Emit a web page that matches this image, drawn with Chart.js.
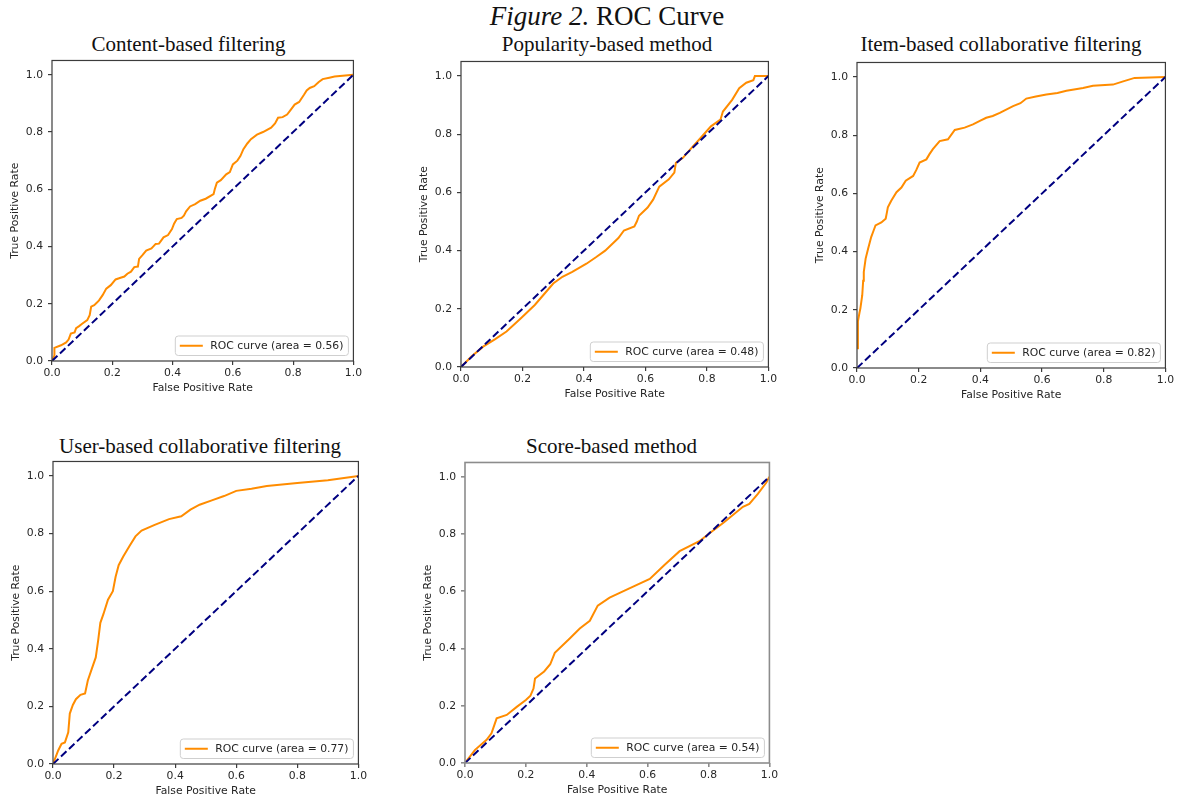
<!DOCTYPE html>
<html>
<head>
<meta charset="utf-8">
<script src="https://cdn.jsdelivr.net/npm/chart.js@4.4.1/dist/chart.umd.min.js"></script>
<style>
  html, body { margin: 0; padding: 0; background: #fff; overflow: hidden; }
  body { width: 1179px; height: 803px; position: relative; }
  canvas { position: absolute; }
  svg { position: absolute; left: 0; top: 0; }
</style>
</head>
<body>
<svg id="titles" width="1179" height="803"></svg>
<script>
// ---- data ----
const figureTitle = ['Figure 2.', ' ROC Curve'];
const subTitles = ['Content-based filtering', 'Popularity-based method', 'Item-based collaborative filtering',
  'User-based collaborative filtering', 'Score-based method'];
const aucValues = [0.56, 0.48, 0.82, 0.77, 0.54];
const tickValues = [0, 0.2, 0.4, 0.6, 0.8, 1.0];

const contentFpr = [0, 0.008, 0.008, 0.03, 0.047, 0.055, 0.0625, 0.075, 0.08, 0.09, 0.1, 0.117, 0.125, 0.13, 0.14, 0.15,
  0.156, 0.168, 0.18, 0.195, 0.211, 0.225, 0.24, 0.25, 0.262, 0.273, 0.285, 0.289, 0.3, 0.3125, 0.33, 0.344, 0.355,
  0.37, 0.385, 0.398, 0.405, 0.414, 0.43, 0.4375, 0.445, 0.458, 0.475, 0.492, 0.51, 0.536, 0.54, 0.547, 0.56, 0.578,
  0.59, 0.6, 0.615, 0.625, 0.635, 0.648, 0.66, 0.68, 0.7, 0.727, 0.74, 0.75, 0.765, 0.78, 0.79, 0.805, 0.82, 0.836,
  0.845, 0.855, 0.87, 0.885, 0.898, 0.92, 0.9375, 1];
const contentTpr = [0, 0.02, 0.046, 0.055, 0.065, 0.075, 0.096, 0.1, 0.115, 0.122, 0.13, 0.143, 0.16, 0.19, 0.195, 0.205,
  0.212, 0.23, 0.253, 0.265, 0.285, 0.29, 0.295, 0.305, 0.312, 0.328, 0.33, 0.357, 0.37, 0.386, 0.393, 0.409, 0.41,
  0.432, 0.44, 0.461, 0.48, 0.496, 0.5, 0.508, 0.523, 0.54, 0.548, 0.56, 0.567, 0.583, 0.6, 0.623, 0.632, 0.652,
  0.66, 0.687, 0.7, 0.716, 0.74, 0.76, 0.775, 0.791, 0.8, 0.815, 0.83, 0.85, 0.852, 0.861, 0.875, 0.896, 0.905, 0.93,
  0.945, 0.954, 0.96, 0.975, 0.985, 0.99, 0.994, 1];

const popularityFpr = [0, 0.034, 0.072, 0.11, 0.148, 0.194, 0.24, 0.27, 0.3, 0.33, 0.362, 0.408, 0.44, 0.469, 0.512,
  0.53, 0.564, 0.572, 0.579, 0.607, 0.625, 0.645, 0.676, 0.694, 0.699, 0.722, 0.745, 0.775, 0.813, 0.844, 0.852,
  0.882, 0.905, 0.928, 0.951, 0.956, 1];
const popularityTpr = [0, 0.036, 0.07, 0.095, 0.122, 0.167, 0.213, 0.25, 0.287, 0.31, 0.327, 0.355, 0.378, 0.4, 0.443,
  0.469, 0.483, 0.5, 0.52, 0.548, 0.575, 0.62, 0.645, 0.668, 0.702, 0.719, 0.747, 0.782, 0.827, 0.85, 0.878,
  0.918, 0.958, 0.977, 0.986, 1, 1];

const itemFpr = [0, 0.003, 0.008, 0.011, 0.017, 0.02, 0.022, 0.028, 0.036, 0.046, 0.053, 0.06, 0.079, 0.093, 0.097, 0.1,
  0.111, 0.128, 0.144, 0.158, 0.182, 0.192, 0.203, 0.225, 0.235, 0.246, 0.268, 0.295, 0.317, 0.349, 0.376, 0.4,
  0.419, 0.44, 0.463, 0.506, 0.53, 0.549, 0.58, 0.614, 0.65, 0.679, 0.733, 0.765, 0.83, 0.863, 0.9, 1];
const itemTpr = [0.068, 0.16, 0.19, 0.205, 0.25, 0.3, 0.33, 0.376, 0.41, 0.45, 0.47, 0.49, 0.5, 0.513, 0.535, 0.552,
  0.575, 0.604, 0.62, 0.644, 0.66, 0.68, 0.706, 0.717, 0.735, 0.752, 0.78, 0.786, 0.818, 0.826, 0.837, 0.85,
  0.86, 0.866, 0.877, 0.9, 0.91, 0.926, 0.933, 0.94, 0.945, 0.953, 0.962, 0.97, 0.974, 0.985, 0.997, 1];

const userFpr = [0, 0.017, 0.028, 0.039, 0.05, 0.055, 0.065, 0.075, 0.09, 0.105, 0.114, 0.127, 0.14, 0.148, 0.155,
  0.165, 0.18, 0.196, 0.205, 0.215, 0.23, 0.25, 0.27, 0.29, 0.333, 0.38, 0.42, 0.45, 0.48, 0.52, 0.56, 0.6, 0.65,
  0.7, 0.8, 0.9, 1];
const userTpr = [0, 0.047, 0.07, 0.075, 0.11, 0.175, 0.205, 0.225, 0.24, 0.245, 0.29, 0.33, 0.37, 0.43, 0.49,
  0.52, 0.57, 0.6, 0.65, 0.69, 0.72, 0.756, 0.79, 0.81, 0.83, 0.85, 0.86, 0.883, 0.9, 0.915, 0.93, 0.948, 0.955,
  0.965, 0.975, 0.985, 1];

const scoreFpr = [0, 0.033, 0.071, 0.087, 0.104, 0.137, 0.17, 0.2, 0.215, 0.225, 0.23, 0.26, 0.28, 0.295, 0.344, 0.377,
  0.41, 0.436, 0.475, 0.54, 0.607, 0.656, 0.705, 0.77, 0.8, 0.85, 0.913, 0.934, 0.962, 0.99, 1];
const scoreTpr = [0, 0.046, 0.081, 0.104, 0.156, 0.168, 0.196, 0.22, 0.235, 0.26, 0.295, 0.32, 0.345, 0.385, 0.435, 0.47,
  0.497, 0.55, 0.578, 0.61, 0.643, 0.693, 0.74, 0.775, 0.8, 0.84, 0.895, 0.905, 0.94, 0.98, 1];

const chanceLine = [0, 1];

const curves = [
  [contentFpr, contentTpr], [popularityFpr, popularityTpr], [itemFpr, itemTpr],
  [userFpr, userTpr], [scoreFpr, scoreTpr]
];

// ---- layout (plot area box of each panel, title centre and baseline) ----
const panels = [
  { l: 52, r: 354, t: 59, b: 361, tx: 188.5, ty: 50.5, frame: '#3c3c3c', fw: 1.2 },
  { l: 461, r: 769, t: 60, b: 367, tx: 607, ty: 50.7, frame: '#3c3c3c', fw: 1.2 },
  { l: 857, r: 1166, t: 61, b: 368, tx: 1001, ty: 51, frame: '#3c3c3c', fw: 1.2 },
  { l: 53, r: 359, t: 460, b: 764, tx: 200, ty: 453, frame: '#3c3c3c', fw: 1.2 },
  { l: 465, r: 770, t: 461, b: 763, tx: 611.5, ty: 453.3, frame: '#8c8c8c', fw: 1.6 }
];
const Y_W = 50, X_H = 38, PAD = 10;
const textColor = '#262626';
const smallFont = { family: 'DejaVu Sans', size: 10.8 };

// titles
const svg = document.getElementById('titles');
const NS = 'http://www.w3.org/2000/svg';
function addText(x, y, size) {
  const t = document.createElementNS(NS, 'text');
  t.setAttribute('x', x);
  t.setAttribute('y', y);
  t.setAttribute('text-anchor', 'middle');
  t.setAttribute('font-family', 'Liberation Serif, Times New Roman, serif');
  t.setAttribute('font-size', size);
  t.setAttribute('fill', '#111');
  svg.appendChild(t);
  return t;
}
const ft = addText(607, 25, 27);
const it = document.createElementNS(NS, 'tspan');
it.setAttribute('font-style', 'italic');
it.textContent = figureTitle[0];
const nt = document.createElementNS(NS, 'tspan');
nt.textContent = figureTitle[1];
ft.appendChild(it);
ft.appendChild(nt);
ft.setAttribute('xml:space', 'preserve');
ft.style.whiteSpace = 'pre';

// legend + full frame drawn inside the plot
const framePlugin = {
  id: 'mplFrame',
  afterDatasetsDraw(chart, args, opts) {
    const a = chart.chartArea;
    const ctx = chart.ctx;
    const ds = chart.data.datasets.find(d => d.label);
    ctx.save();
    ctx.font = '10.8px "DejaVu Sans"';
    const tw = ctx.measureText(ds.label).width;
    const h = 19.5, w = tw + 40;
    const x = a.right - 5 - w, y = a.bottom - 5.5 - h;
    ctx.beginPath();
    ctx.roundRect(x, y, w, h, 3);
    ctx.fillStyle = 'rgba(255,255,255,0.85)';
    ctx.fill();
    ctx.strokeStyle = '#cfcfcf';
    ctx.lineWidth = 1;
    ctx.stroke();
    ctx.beginPath();
    ctx.moveTo(x + 4.5, y + h / 2);
    ctx.lineTo(x + 27.5, y + h / 2);
    ctx.strokeStyle = ds.borderColor;
    ctx.lineWidth = 2;
    ctx.stroke();
    ctx.fillStyle = textColor;
    ctx.textBaseline = 'middle';
    ctx.fillText(ds.label, x + 35, y + h / 2 + 0.5);

    ctx.strokeStyle = opts.color;
    ctx.lineWidth = opts.width;
    ctx.strokeRect(a.left, a.top, a.right - a.left, a.bottom - a.top);
    ctx.restore();
  }
};

panels.forEach((p, i) => {
  addText(p.tx, p.ty, 21).textContent = subTitles[i];

  const cv = document.createElement('canvas');
  cv.width = (p.r - p.l) + Y_W + PAD;
  cv.height = (p.b - p.t) + PAD + X_H;
  cv.style.left = (p.l - Y_W) + 'px';
  cv.style.top = (p.t - PAD) + 'px';
  document.body.appendChild(cv);

  const [fpr, tpr] = curves[i];
  const axisGrid = {
    display: true, drawOnChartArea: false, drawTicks: true, tickLength: 4,
    color: p.frame, tickColor: p.frame, lineWidth: p.fw
  };

  new Chart(cv.getContext('2d'), {
    type: 'scatter',
    data: {
      datasets: [
        {
          data: chanceLine.map((v, k) => ({ x: v, y: chanceLine[k] })),
          showLine: true, borderColor: '#000080', borderWidth: 2, borderDash: [7.5, 3.5],
          pointRadius: 0, order: 0
        },
        {
          label: 'ROC curve (area = ' + aucValues[i].toFixed(2) + ')',
          data: fpr.map((v, k) => ({ x: v, y: tpr[k] })),
          showLine: true, borderColor: '#ff8c00', borderWidth: 2, pointRadius: 0,
          tension: 0, order: 1
        }
      ]
    },
    options: {
      responsive: false,
      devicePixelRatio: 1,
      animation: false,
      layout: { padding: { left: 0, top: PAD, right: PAD, bottom: 0 } },
      plugins: {
        legend: { display: false },
        tooltip: { enabled: false },
        mplFrame: { color: p.frame, width: p.fw }
      },
      scales: {
        x: {
          type: 'linear', min: 0, max: 1,
          afterFit: s => { s.height = X_H; },
          afterBuildTicks: s => { s.ticks = tickValues.map(v => ({ value: v })); },
          ticks: {
            color: textColor, font: smallFont, padding: 2, maxRotation: 0, autoSkip: false,
            callback: v => v.toFixed(1)
          },
          grid: axisGrid,
          border: { display: false },
          title: {
            display: true, text: 'False Positive Rate', color: textColor, font: smallFont,
            padding: { top: 0, bottom: 4 }
          }
        },
        y: {
          type: 'linear', min: 0, max: 1.05,
          afterFit: s => { s.width = Y_W; },
          afterBuildTicks: s => { s.ticks = tickValues.map(v => ({ value: v })); },
          ticks: {
            color: textColor, font: smallFont, padding: 5, autoSkip: false,
            callback: v => v.toFixed(1)
          },
          grid: axisGrid,
          border: { display: false },
          title: {
            display: true, text: 'True Positive Rate', color: textColor, font: smallFont,
            padding: { top: 7, bottom: 0 }
          }
        }
      }
    },
    plugins: [framePlugin]
  });
});
</script>
</body>
</html>
